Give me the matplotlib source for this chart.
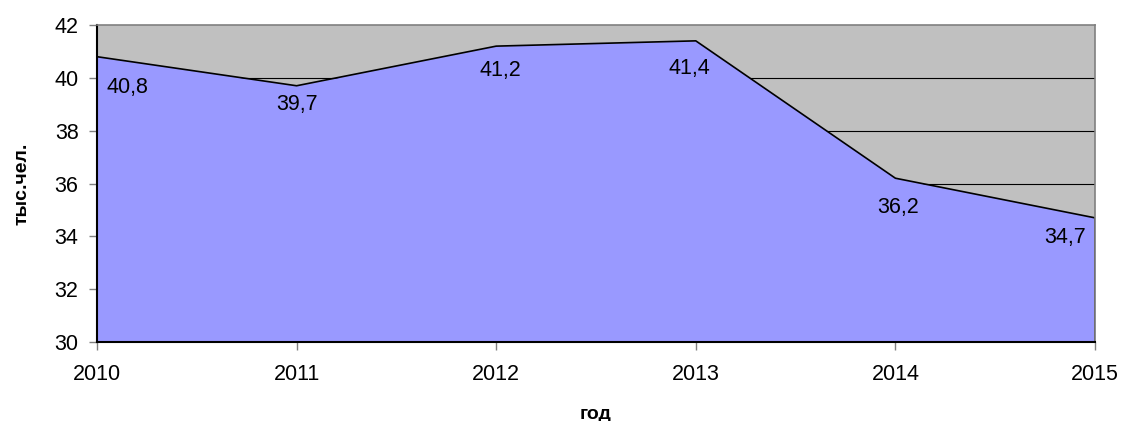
import matplotlib
matplotlib.use("Agg")
import matplotlib.pyplot as plt

plt.rcParams.update({"font.family": ["Liberation Sans", "DejaVu Sans"], "font.size": 15.5})

years = [2010, 2011, 2012, 2013, 2014, 2015]
values = [40.8, 39.7, 41.2, 41.4, 36.2, 34.7]
labels = ["40,8", "39,7", "41,2", "41,4", "36,2", "34,7"]
yticks = [30, 32, 34, 36, 38, 40, 42]

# label offsets (pixels) relative to each point
offs = [(30, -31), (0, -19), (4, -24), (-6, -28), (3, -29), (-30, -20)]

DPI = 100
fig = plt.figure(figsize=(11.25, 4.21), dpi=DPI)
ax = fig.add_axes([97 / 1125, 1 - 342 / 421, (1095 - 97) / 1125, (342 - 25) / 421])
ax.set_facecolor("#C0C0C0")
ax.fill_between(years, values, 30, color="#9999FF", lw=0, zorder=2)
ax.plot([years[0]] + years + [years[-1]], [30] + values + [30], color="black", lw=1.2, zorder=3)
for y in yticks[1:-1]:
    ax.axhline(y, color="black", lw=0.8, zorder=1)

ax.set_xlim(years[0], years[-1]); ax.set_ylim(30, 42)
ax.set_xticks(years); ax.set_yticks(yticks)
ax.tick_params(direction="out", length=5.8, color="#808080", width=1, labelsize=15.5)
ax.tick_params(axis="x", pad=10)
ax.tick_params(axis="y", pad=7.5)
for s in ["top", "right"]:
    ax.spines[s].set_color("#808080"); ax.spines[s].set_linewidth(1.2)
for s in ["left", "bottom"]:
    ax.spines[s].set_color("black"); ax.spines[s].set_linewidth(1.5)
for s in ax.spines.values():
    s.set_zorder(4)

for x, v, t, (dx, dy) in zip(years, values, labels, offs):
    ax.annotate(t, (x, v), xytext=(dx * 72 / DPI, dy * 72 / DPI), textcoords="offset points",
                ha="center", va="center", fontsize=15.5, zorder=5)

ax.set_ylabel("тыс.чел.", fontweight="bold", fontsize=14, labelpad=17)
ax.set_xlabel("год", fontweight="bold", fontsize=14, labelpad=15)
fig.savefig("out.png", dpi=DPI)
